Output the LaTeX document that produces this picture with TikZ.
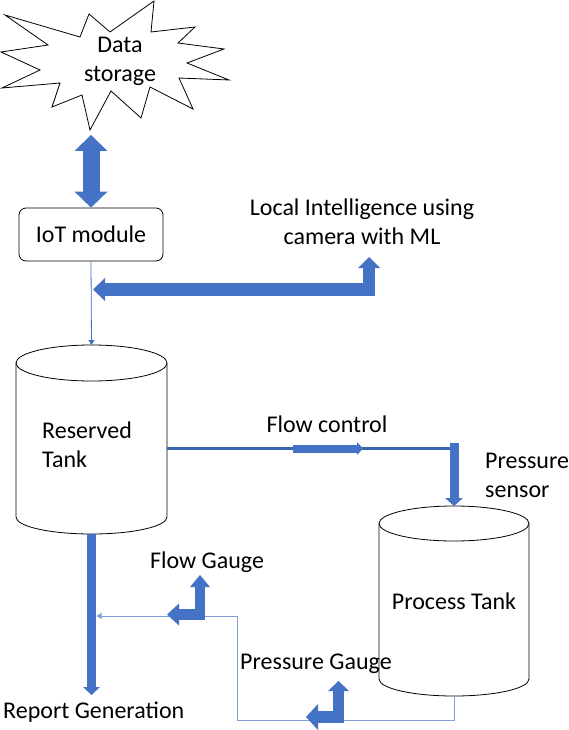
\documentclass[tikz,border=0pt]{standalone}
\usepackage{fontspec}
\setmainfont{Carlito}
\usetikzlibrary{arrows.meta}
\definecolor{ablue}{HTML}{4472C4}
\definecolor{fblue}{HTML}{3A64B4}
\definecolor{lblue}{HTML}{7F9FDA}
\begin{document}
\begin{tikzpicture}[x=1pt,y=-1pt,line join=miter,
  lbl/.style={font=\fontsize{24}{29}\selectfont, inner sep=0pt, align=center, text=black},
  outline/.style={draw=black, line width=0.8pt, fill=white},
  thinlink/.style={draw=ablue, line width=0.8pt, -{Triangle[length=5pt,width=6pt]}},
  gaugelink/.style={draw=lblue, line width=1pt, -{Triangle[length=5pt,width=6pt]}},
  blockarrow/.style={draw=ablue, line width=#1}]
\useasboundingbox (0,0) rectangle (568,730);

% data storage (starburst)
\draw[outline] (5,15) -- (80,37) -- (89,14) -- (110,32) -- (154,1) -- (151,32) -- (195,27) -- (178,43)
  -- (224,49) -- (187,63) -- (229,80) -- (179,78) -- (193,109) -- (150,87) -- (141,118) -- (111,91)
  -- (90,130) -- (82,95) -- (52,107) -- (60,83) -- (2,88) -- (40,70) -- (1,52) -- (48,45) -- cycle;
\node[lbl] (storage) at (120,61) {Data\\storage};
\coordinate (storageBot) at (91,135);

% IoT module
\node[lbl, draw, line width=0.8pt, rounded corners=7pt, minimum width=144pt, minimum height=53pt] (iot) at (91,234.5) {IoT module};

\draw[blockarrow=17pt, {Triangle[length=16pt,width=33pt,line width=0pt]}-{Triangle[length=16pt,width=33pt,line width=0pt]}] (storageBot) -- (iot.north);

% reserved tank
\coordinate (rtTop) at (91.5,345);
\coordinate (rtBot) at (91.5,534);
\coordinate (rtRight) at (167,448.5);
\draw[outline] (16,363) -- (16,517) arc[start angle=180, end angle=0, x radius=75.5, y radius=17] -- (167,363);
\draw[outline] (91.5,363) ellipse[x radius=75.5, y radius=18];
\node[lbl, align=left, anchor=west] (reserved) at (42,445) {Reserved\\Tank};

\draw[thinlink] (iot.south) -- (rtTop);

% local intelligence
\node[lbl] (local) at (362,222) {Local Intelligence using\\camera with ML};
\coordinate (liUp) at (369,257);
\coordinate (liCorner) at (369,289.5);
\coordinate (liLeft) at (93,289.5);
\draw[blockarrow=12.5pt, {Triangle[length=11pt,width=22pt,line width=0pt]}-{Triangle[length=12pt,width=23pt,line width=0pt]}] (liUp) -- (liCorner) -- (liLeft);

% process tank
\coordinate (ptTop) at (454,506);
\coordinate (ptBot) at (454,696);
\draw[outline] (379,523.5) -- (379,679) arc[start angle=180, end angle=0, x radius=75, y radius=17] -- (529,523.5);
\draw[outline] (454,523.5) ellipse[x radius=75, y radius=17.5];
\node[lbl] (process) at (454,601) {Process Tank};

% flow control
\coordinate (fcCorner) at (456,448.5);
\coordinate (fcA) at (293,448.5);
\coordinate (fcB) at (363,448.5);
\coordinate (psTop) at (454,443);
\draw[fblue, line width=3.5pt] (rtRight) -- (fcCorner);
\draw[blockarrow=8pt, -{Triangle[length=6pt,width=13pt,line width=0pt]}] (fcA) -- (fcB);
\draw[blockarrow=9pt, -{Triangle[length=8pt,width=18pt,line width=0pt]}] (psTop) -- (ptTop);
\node[lbl] (flowctl) at (327,424) {Flow control};
\node[lbl, align=left, anchor=west] (psensor) at (485,475) {Pressure\\sensor};

% report generation
\coordinate (rgTop) at (91.5,695);
\draw[blockarrow=9pt, -{Triangle[length=8pt,width=17pt,line width=0pt]}] (rtBot) -- (rgTop);
\node[lbl, anchor=west] (report) at (3,712) {Report Generation};

% gauge loop
\coordinate (lpA) at (454,720);
\coordinate (lpB) at (237,720);
\coordinate (lpC) at (237,616);
\coordinate (lpEnd) at (96.5,616);
\draw[gaugelink] (ptBot) -- (lpA) -- (lpB) -- (lpC) -- (lpEnd);

% flow gauge
\coordinate (fgUp) at (200,575);
\coordinate (fgCorner) at (200,614.5);
\coordinate (fgLeft) at (167,614.5);
\draw[blockarrow=10.5pt, {Triangle[length=12pt,width=20pt,line width=0pt]}-{Triangle[length=12pt,width=22pt,line width=0pt]}] (fgUp) -- (fgCorner) -- (fgLeft);
\node[lbl] (flowgauge) at (207,562) {Flow Gauge};

% pressure gauge
\coordinate (pgUp) at (338.5,681);
\coordinate (pgCorner) at (338.5,717);
\coordinate (pgLeft) at (306,717);
\draw[blockarrow=11.5pt, {Triangle[length=10pt,width=21pt,line width=0pt]}-{Triangle[length=12pt,width=26pt,line width=0pt]}] (pgUp) -- (pgCorner) -- (pgLeft);
\node[lbl, anchor=west] (pgauge) at (240,664) {Pressure Gauge};
\end{tikzpicture}
\end{document}
